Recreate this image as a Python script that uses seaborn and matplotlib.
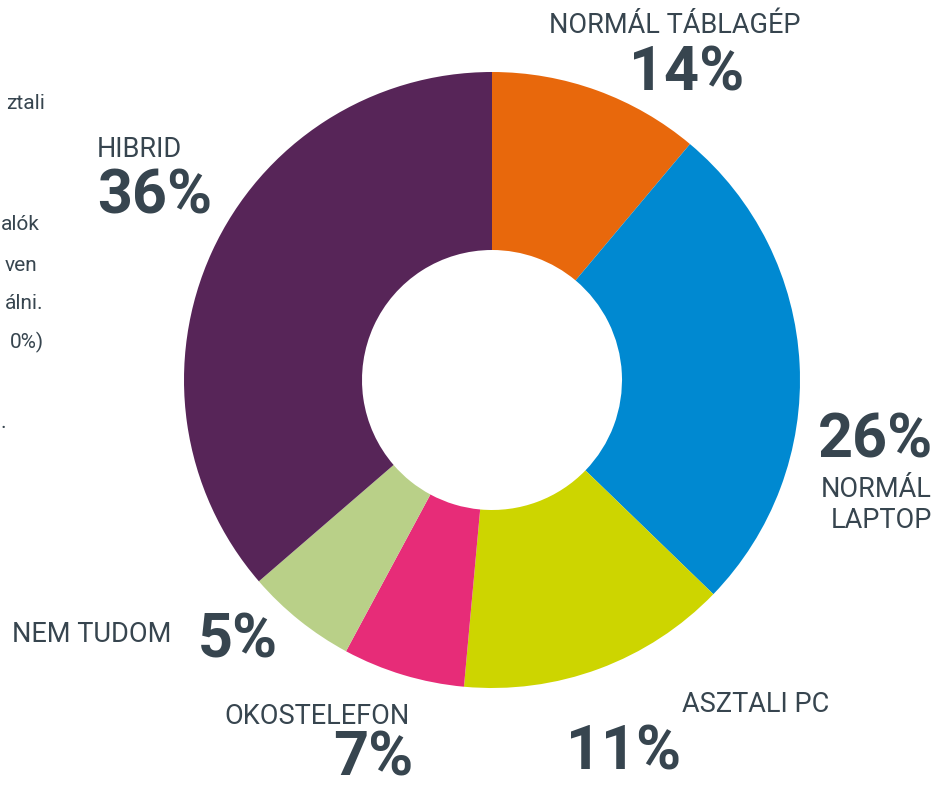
import matplotlib
matplotlib.use("Agg")
import matplotlib.pyplot as plt
import seaborn as sns

# Data (slice sizes, clockwise from 12 o'clock)
categories = ["NORMÁL TÁBLAGÉP", "NORMÁL LAPTOP", "ASZTALI PC", "OKOSTELEFON", "NEM TUDOM", "HIBRID"]
slice_values = [11.1, 26.1, 14.2, 6.4, 5.8, 36.3]
# Percentages as printed in the labels
label_pcts = ["14%", "26%", "11%", "7%", "5%", "36%"]
colors = ["#E8680C", "#0089D1", "#CDD500", "#E72C78", "#B9D088", "#572558"]

# Side text fragments at the left edge
side_texts = ["ztali", "alók", "ven", "álni.", "0%)", "."]

sns.set_theme(style="white")
plt.rcParams['font.family'] = ['Roboto', 'DejaVu Sans']

W, H = 949, 789
fig = plt.figure(figsize=(W / 100, H / 100), dpi=100)
ax = fig.add_axes([0, 0, 1, 1])

R_out, R_in = 308, 130
cx, cy = 492, H - 380
ax.pie(slice_values, colors=colors, startangle=90, counterclock=False,
       radius=R_out, center=(cx, cy), frame=True,
       wedgeprops=dict(width=R_out - R_in, linewidth=0))
ax.set_xlim(0, W)
ax.set_ylim(0, H)
ax.set_aspect("equal")
ax.axis("off")

tc = "#37454F"
def T(x, y, s, size, bold=False, ha="left", va="center"):
    ax.text(x, H - y, s, fontsize=size, color=tc, ha=ha, va=va,
            fontweight="bold" if bold else "normal")

small, big = 19.5, 44

# Normál táblagép
T(675, 25, categories[0], small, ha="center")
T(687, 73, label_pcts[0], big, True, ha="center")
# Normál laptop
T(933, 440, label_pcts[1], big, True, ha="right")
T(932, 489, "NORMÁL", small, ha="right")
T(932, 521, "LAPTOP", small, ha="right")
# Asztali PC
T(829, 705, categories[2], small, ha="right")
T(624, 752, label_pcts[2], big, True, ha="center")
# Okostelefon
T(317, 716, categories[3], small, ha="center")
T(413, 758, label_pcts[3], big, True, ha="right")
# Nem tudom
T(12, 634, categories[4], small, ha="left")
T(198, 641, label_pcts[4], big, True, ha="left")
# Hibrid
T(97, 149, categories[5], small, ha="left")
T(97, 196, label_pcts[5], big, True, ha="left")

# Left-edge fragments
side_pos = [(45, 103), (40, 224), (37, 265), (44, 303), (44, 342), (6, 422)]
for s, (x, y) in zip(side_texts, side_pos):
    T(x, y, s, 15, ha="right")

fig.savefig("out.png", dpi=100)
